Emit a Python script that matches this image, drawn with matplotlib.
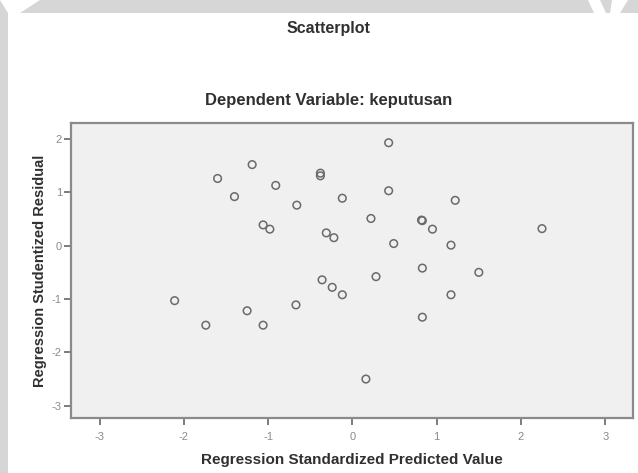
import matplotlib
matplotlib.use("Agg")
import matplotlib.pyplot as plt
from matplotlib.patches import Polygon, Rectangle

# Data
pred_x = [0.43, -1.19, -1.60, -0.91, -0.38, -0.38, -1.40, -0.66, -0.12, 0.43,
          1.22, -1.06, -0.98, 0.22, -0.31, -0.22, 0.82, 0.83, 0.95, 0.49,
          1.17, 2.25, -0.36, -0.24, -0.12, 0.28, 0.83, 1.50, 1.17, -0.67,
          -2.11, -1.25, -1.74, -1.06, 0.83, 0.16]
resid_y = [1.93, 1.52, 1.26, 1.13, 1.36, 1.31, 0.92, 0.76, 0.89, 1.03,
           0.85, 0.39, 0.31, 0.51, 0.24, 0.15, 0.48, 0.47, 0.31, 0.04,
           0.01, 0.32, -0.64, -0.78, -0.92, -0.58, -0.42, -0.50, -0.92, -1.11,
           -1.03, -1.22, -1.49, -1.49, -1.34, -2.50]
ticks = [-3, -2, -1, 0, 1, 2, 3]
yticks = [-3, -2, -1, 0, 1, 2]

title_main = "Scatterplot"
title_sub = "Dependent Variable: keputusan"
xlabel = "Regression Standardized Predicted Value"
ylabel = "Regression Studentized Residual"

W, H = 638, 473
fig = plt.figure(figsize=(W / 100, H / 100), dpi=100)
fig.patch.set_facecolor("white")
font = ["Liberation Sans", "DejaVu Sans"]

# gray frame of the screenshot
gray = "#d6d6d6"
fig.add_artist(Rectangle((0, 1 - 13 / H), 1, 13 / H, transform=fig.transFigure,
                         facecolor=gray, edgecolor="none", zorder=0))
fig.add_artist(Rectangle((0, 0), 8 / W, 1, transform=fig.transFigure,
                         facecolor=gray, edgecolor="none", zorder=0))
for pts in [[(0, H), (40, H), (20, H - 13), (8, H - 13)],
            [(588, H), (600, H), (606, H - 13), (594, H - 13)],
            [(612, H), (628, H), (620, H - 13), (610, H - 13)]]:
    fig.add_artist(Polygon([(px / W, py / H) for px, py in pts], closed=True,
                           transform=fig.transFigure, facecolor="white",
                           edgecolor="none", zorder=1))

ax = fig.add_axes([71 / W, (H - 418) / H, (633 - 71) / W, (418 - 123) / H])
ax.set_facecolor("#f0f0f0")
ax.scatter(pred_x, resid_y, s=30, facecolors="none", edgecolors="#6a6a6a",
           linewidths=1.1, zorder=3)
ax.set_xticks(ticks)
ax.set_yticks(yticks)
ax.set_xticklabels([str(t) for t in ticks])
ax.set_yticklabels([str(t) for t in yticks])
ax.set_xlim(-3.34, 3.33)
ax.set_ylim(-3.23, 2.30)
for s in ax.spines.values():
    s.set_color("#8a8a8a")
    s.set_linewidth(1.6)
ax.tick_params(direction="out", length=5, width=1.2, color="#666666",
               labelsize=8, labelcolor="#8a8a8a")
ax.tick_params(axis="x", pad=5)
ax.tick_params(axis="y", pad=1.5)
for lab in ax.get_xticklabels() + ax.get_yticklabels():
    lab.set_family(font)

ax.set_xlabel(xlabel, fontsize=11, fontweight="bold", color="#303030",
              family=font, labelpad=8)
ax.set_ylabel(ylabel, fontsize=10.5, fontweight="bold", color="#303030",
              family=font)
ax.yaxis.set_label_coords((47 - 71) / 562, 0.5)

fig.text(328 / W, 1 - 28 / H, title_main, ha="center", va="center",
         fontsize=11.5, fontweight="bold", color="#303030", family=font)
fig.text(329 / W, 1 - 100 / H, title_sub, ha="center", va="center",
         fontsize=12, fontweight="bold", color="#303030", family=font)

fig.savefig("out.png", dpi=100)
